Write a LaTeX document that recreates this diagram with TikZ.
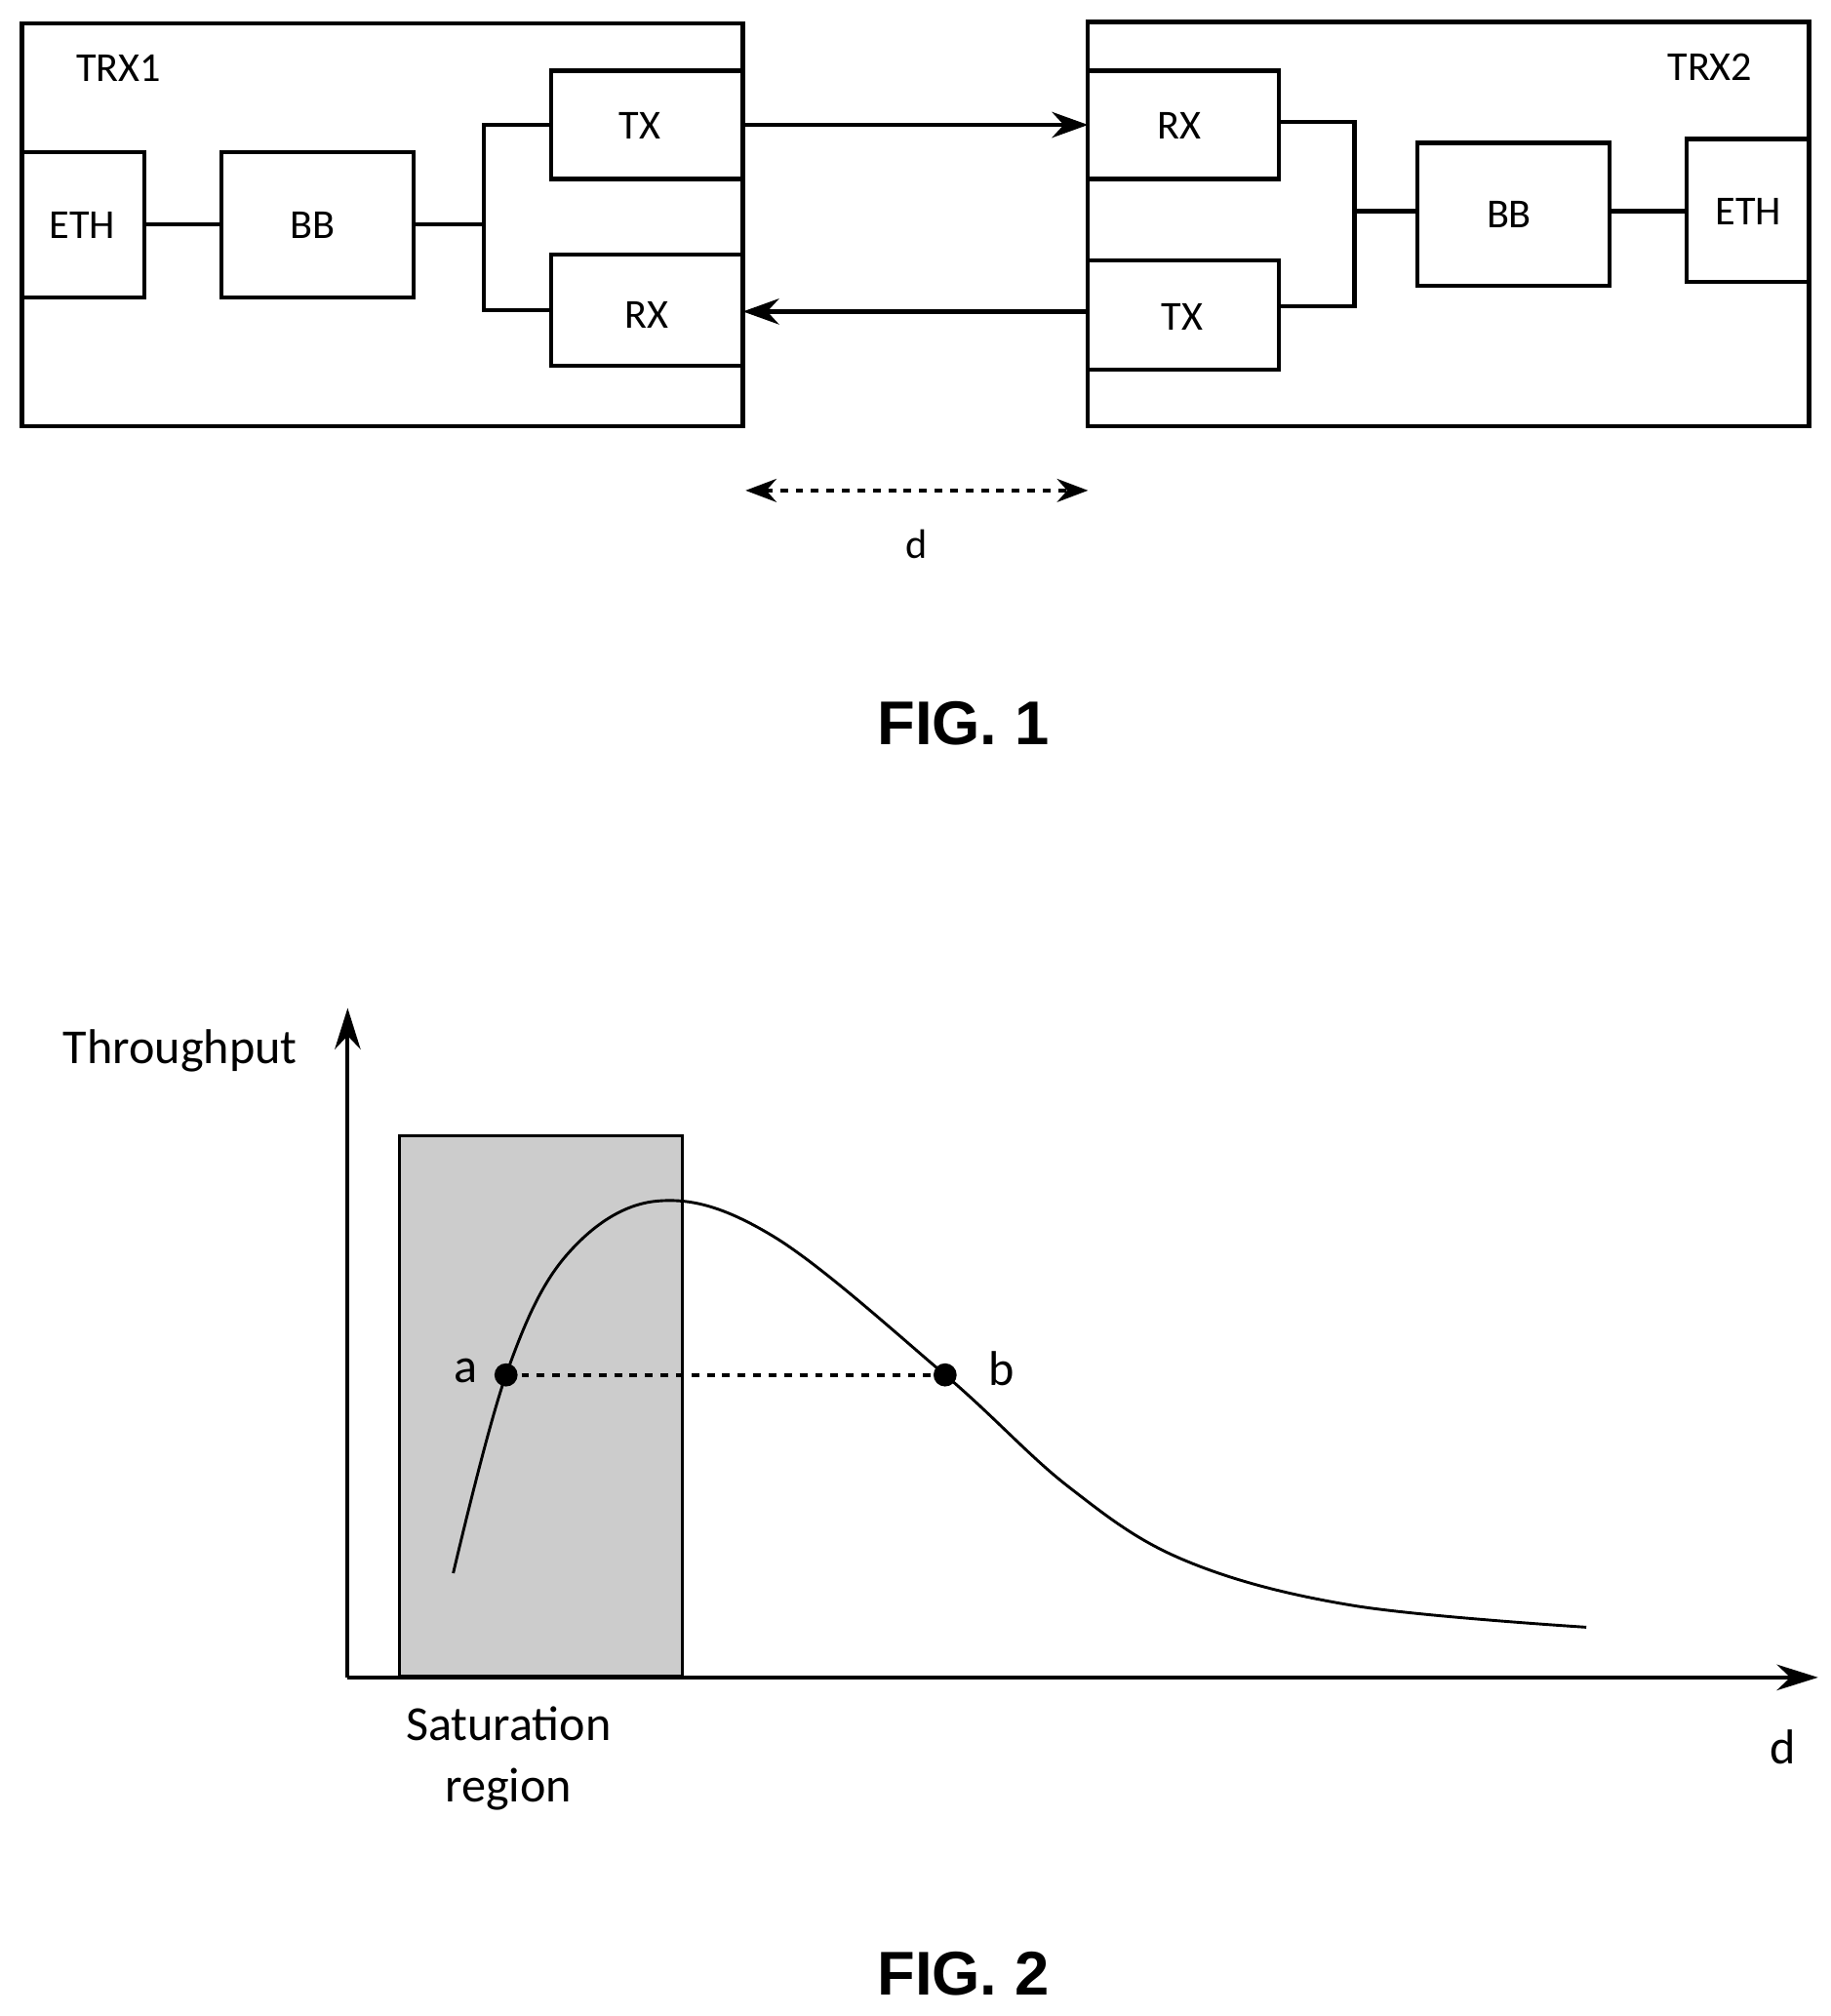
\documentclass[tikz,border=0pt]{standalone}
\usepackage{fontspec}
\setmainfont{Carlito}
\newfontfamily\figfont{Liberation Sans}
\usetikzlibrary{arrows.meta}
\begin{document}
\begin{tikzpicture}[x=0.5pt,y=-0.5pt,
  box/.style={draw,line width=1.6pt},
  blk/.style={draw,line width=1.6pt,font=\fontsize{16}{18}\selectfont},
  lbl/.style={font=\fontsize{16}{18}\selectfont},
  ln/.style={line width=1.6pt},
  fig/.style={font=\figfont\bfseries\fontsize{24}{28}\selectfont}]
\useasboundingbox (0,0) rectangle (1422,1566);
% FIG 1
\draw[box] (17,18) rectangle (577,331);
\node[lbl] (t1) at (92,53) {TRX1};
\draw[blk] (17,118) rectangle (112,231); \node[lbl] (eth1) at (64,175) {ETH};
\draw[blk] (172,118) rectangle (321,231); \node[lbl] (bb1) at (243,175) {BB};
\draw[blk] (428,55) rectangle (577,139); \node[lbl] (tx1) at (497,98) {TX};
\draw[blk] (428,198) rectangle (577,284); \node[lbl] (rx1) at (502,245) {RX};
\draw[ln] (112,174) -- (172,174);
\draw[ln] (321,174) -- (376,174);
\draw[ln] (428,97) -- (376,97) -- (376,241) -- (428,241);
\draw[box] (845,17) rectangle (1405,331);
\node[lbl] (t2) at (1328,52) {TRX2};
\draw[blk] (845,55) rectangle (993,139); \node[lbl] (rx2) at (916,98) {RX};
\draw[blk] (845,202) rectangle (993,287); \node[lbl] (tx2) at (918,246) {TX};
\draw[blk] (1101,111) rectangle (1250,222); \node[lbl] (bb2) at (1172,167) {BB};
\draw[blk] (1310,108) rectangle (1405,219); \node[lbl] (eth2) at (1358,164) {ETH};
\draw[ln] (993,95) -- (1052,95) -- (1052,238) -- (993,238);
\draw[ln] (1052,164) -- (1101,164);
\draw[ln] (1250,164) -- (1310,164);
\draw[ln,-{Stealth[length=14pt,width=10pt]}] (577,97) -- (845,97);
\draw[ln,-{Stealth[length=14pt,width=10pt]}] (845,242) -- (577,242);
\draw[ln,dashed,{Stealth[length=12pt,width=9pt]}-{Stealth[length=12pt,width=9pt]}] (579,381) -- (845,381);
\node[lbl] (d1) at (712,423) {d};
\node[fig] (f1) at (748,562) {FIG. 1};
% FIG 2
\fill[gray!40] (310,882) rectangle (530,1302);
\draw[line width=1.2pt] (310,882) rectangle (530,1302);
\draw[ln,-{Stealth[length=16pt,width=10pt]}] (270,1303) -- (270,783);
\draw[ln,-{Stealth[length=16pt,width=10pt]}] (270,1303) -- (1412,1303);
\node[font=\fontsize{19}{22}\selectfont] (thr) at (140,816) {Throughput};
\draw[line width=1.1pt] plot[smooth,tension=0.6] coordinates {(352,1222) (393,1068) (440,975) (510,933) (600,960) (734,1068) (830,1155) (920,1212) (1050,1247) (1232,1264)};
\draw[ln,dashed] (393,1068) -- (734,1068);
\fill (393,1068) circle (9);
\fill (734,1068) circle (9);
\node[font=\fontsize{19}{22}\selectfont] (la) at (362,1065) {a};
\node[font=\fontsize{19}{22}\selectfont] (lb) at (778,1063) {b};
\node[font=\fontsize{19}{22}\selectfont,align=center] (sat) at (395,1366) {Saturation\\[2pt]region};
\node[font=\fontsize{19}{22}\selectfont] (d2) at (1385,1357) {d};
\node[fig] (f2) at (748,1533) {FIG. 2};
\end{tikzpicture}
\end{document}
